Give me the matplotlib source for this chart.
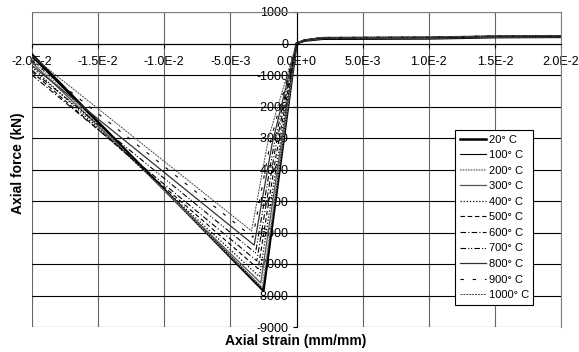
import matplotlib
matplotlib.use("Agg")
import matplotlib.pyplot as plt

plt.rcParams["font.family"] = ["Liberation Sans", "DejaVu Sans"]

# temperature series
temps = ["20° C", "100° C", "200° C", "300° C", "400° C", "500° C",
         "600° C", "700° C", "800° C", "900° C", "1000° C"]

# compression branch: end of test at -0.02, peak, a mid point on the rising part
end_strain = -0.02
end_force = [-350, -420, -500, -600, -750, -900, -1000, -850, -700, -550, -400]
peak_strain = [-0.0025, -0.0025, -0.0026, -0.0027, -0.0028, -0.0029,
               -0.0030, -0.0031, -0.0032, -0.0033, -0.0034]
peak_force = [-7850, -7800, -7750, -7600, -7400, -7150,
              -6900, -6650, -6400, -6150, -5950]
mid_strain = [-0.00125, -0.00126, -0.0013, -0.00138, -0.00145, -0.00155,
              -0.00165, -0.00175, -0.00185, -0.00195, -0.0021]
mid_force = [-3925, -3900, -3875, -3800, -3700, -3575,
             -3450, -3325, -3200, -3075, -2975]

# tension branch
tension_strain = [0.0006, 0.002, 0.01, 0.015, 0.02]
tension_force = [
    [90, 150, 160, 200, 210],
    [95, 155, 165, 205, 215],
    [100, 165, 175, 210, 220],
    [100, 170, 180, 215, 225],
    [105, 175, 185, 220, 230],
    [105, 180, 190, 225, 235],
    [110, 185, 195, 230, 240],
    [110, 185, 200, 235, 245],
    [115, 190, 200, 235, 245],
    [115, 190, 205, 240, 250],
    [120, 195, 210, 245, 255],
]

x_ticks = [-0.02, -0.015, -0.01, -0.005, 0.0, 0.005, 0.01, 0.015, 0.02]
x_tick_labels = ["-2.0E-2", "-1.5E-2", "-1.0E-2", "-5.0E-3", "0.0E+0",
                 "5.0E-3", "1.0E-2", "1.5E-2", "2.0E-2"]
y_ticks = list(range(-9000, 1001, 1000))

styles = [
    dict(color="black", lw=1.8, ls="-"),
    dict(color="black", lw=0.8, ls="-"),
    dict(color="#888888", lw=1.2, ls=(0, (1, 0.6))),
    dict(color="#555555", lw=0.9, ls="-"),
    dict(color="black", lw=0.9, ls=(0, (1, 1.5))),
    dict(color="black", lw=0.8, ls=(0, (4, 2.5))),
    dict(color="black", lw=0.8, ls=(0, (5, 2, 1, 2))),
    dict(color="black", lw=0.8, ls=(0, (5, 2, 1, 1.5, 1, 2))),
    dict(color="#333333", lw=0.9, ls="-"),
    dict(color="black", lw=0.8, ls=(0, (3, 8))),
    dict(color="#444444", lw=0.7, ls=(0, (2, 1))),
]

fig = plt.figure(figsize=(5.79, 3.52), dpi=100)
ax = fig.add_axes([32 / 579, 25 / 352, 529 / 579, 315 / 352])

for i, t in enumerate(temps):
    xs = [end_strain, peak_strain[i], mid_strain[i], 0.0] + tension_strain
    ys = [end_force[i], peak_force[i], mid_force[i], 0.0] + tension_force[i]
    ax.plot(xs, ys, label=t, **styles[i])

ax.set_xlim(-0.02, 0.02)
ax.set_ylim(-9000, 1000)
ax.set_xticks(x_ticks)
ax.set_xticklabels(x_tick_labels)
ax.set_yticks(y_ticks)
ax.set_yticklabels([str(v) for v in y_ticks])

ax.set_axisbelow(True)
ax.xaxis.grid(True, color="#666666", lw=0.8)
ax.yaxis.grid(True, color="black", lw=0.8)

# axes cross at the origin, plot frame in grey
ax.spines["left"].set_position(("data", 0))
ax.spines["bottom"].set_position(("data", 0))
for s in ["left", "bottom"]:
    ax.spines[s].set_color("black")
    ax.spines[s].set_linewidth(0.8)
for s in ["top", "right"]:
    ax.spines[s].set_color("#808080")
    ax.spines[s].set_linewidth(0.8)

ax.tick_params(axis="x", direction="out", length=3, width=0.8, pad=6, labelsize=9)
ax.tick_params(axis="y", direction="out", length=3, width=0.8, pad=3, labelsize=9)

fig.text(296 / 579, 1 - 341 / 352, "Axial strain (mm/mm)", ha="center", va="center",
         fontsize=10, fontweight="bold")
fig.text(18 / 579, 1 - 163 / 352, "Axial force (kN)", ha="center", va="center",
         rotation=90, fontsize=10, fontweight="bold")

leg = ax.legend(loc="upper left", bbox_to_anchor=(0.80, 0.625), fontsize=8,
                frameon=True, fancybox=False, framealpha=1, edgecolor="black",
                handlelength=2.4, handletextpad=0.2, labelspacing=0.5,
                borderpad=0.4, borderaxespad=0)
leg.get_frame().set_linewidth(0.8)

fig.savefig("out.png", dpi=100)
